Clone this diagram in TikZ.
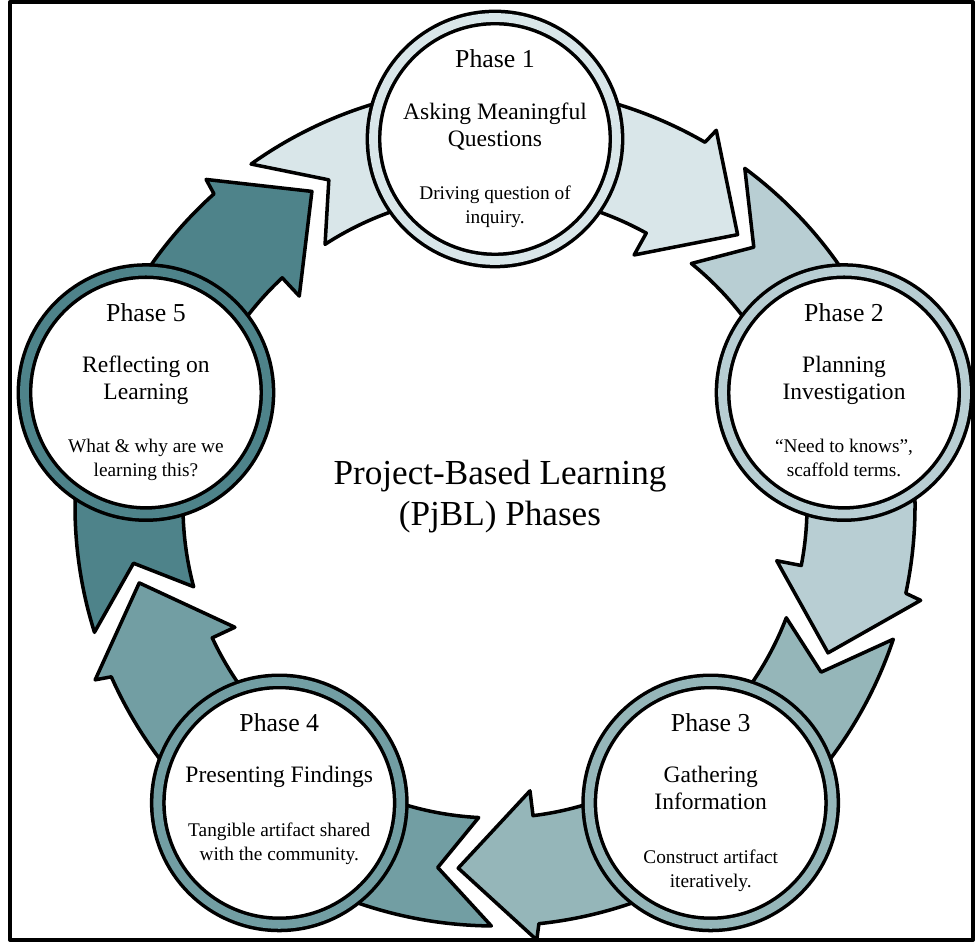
\documentclass[tikz,border=0pt]{standalone}
\usepackage{fontspec}
\setmainfont{Liberation Serif}
\usetikzlibrary{calc}

\definecolor{phaseI}{RGB}{217,230,233}
\definecolor{phaseII}{RGB}{184,206,211}
\definecolor{phaseIII}{RGB}{149,182,185}
\definecolor{phaseIV}{RGB}{114,158,163}
\definecolor{phaseV}{RGB}{78,131,138}

% curved arrow on the cycle: #1 = angle of its phase, #2 = fill colour
\newcommand{\cyclearrow}[2]{%
  \filldraw[fill=#2] (#1+35.5:420) -- (#1+27:366) -- (#1+33:312)
    arc[start angle=#1+33, end angle=#1-29, radius=312]
    -- (#1-29:287) -- (#1-41.8:364) -- (#1-30.5:436) -- (#1-30:420)
    arc[start angle=#1-30, end angle=#1+35.5, radius=420] -- cycle;}

\begin{document}
\begin{tikzpicture}[x=0.02cm, y=0.02cm, line width=2pt, line join=round,
  phase/.style={circle, draw, fill=white, double distance=5pt, minimum size=4.86cm, inner sep=0pt},
  ptitle/.style={anchor=base, inner sep=0pt, font=\fontsize{14.7}{17}\selectfont},
  pname/.style={anchor=north, inner sep=0pt, align=center, font=\fontsize{13.4}{15.3}\selectfont},
  pdesc/.style={anchor=north, inner sep=0pt, align=center, font=\fontsize{11}{13.6}\selectfont}]
  \useasboundingbox (0,0) rectangle (975,945);
  \draw[line width=2.3pt] (10,5) rectangle (973,943);

  \coordinate (C) at (495,439);

  % Arrows first, then the circles on top of them
  \begin{scope}[shift={(C)}]
    \cyclearrow{90}{phaseI}
    \cyclearrow{18}{phaseII}
    \cyclearrow{-54}{phaseIII}
    \cyclearrow{-126}{phaseIV}
    \cyclearrow{162}{phaseV}

    \node[phase, double=phaseI]   (p1) at (90:367)   {};
    \node[phase, double=phaseII]  (p2) at (18:367)   {};
    \node[phase, double=phaseIII] (p3) at (-54:367)  {};
    \node[phase, double=phaseIV]  (p4) at (-126:367) {};
    \node[phase, double=phaseV]   (p5) at (162:367)  {};
  \end{scope}

  % Centre title
  \node[font=\fontsize{20}{23.8}\selectfont, align=center, anchor=north, inner sep=0pt] (title)
    at ($(C)+(5,48)$) {Project-Based Learning\\(PjBL) Phases};

  % Phase 1 - top
  \node[ptitle] (t1) at ($(p1)+(0,71)$) {Phase 1};
  \node[pname] (n1) at ($(p1)+(0,38)$) {Asking Meaningful\\Questions};
  \node[pdesc] (d1) at ($(p1)+(0,-45)$) {Driving question of\\inquiry.};

  % Phase 2 - right
  \node[ptitle] (t2) at ($(p2)+(0,71)$) {Phase 2};
  \node[pname] (n2) at ($(p2)+(0,38)$) {Planning\\Investigation};
  \node[pdesc] (d2) at ($(p2)+(0,-45)$) {“Need to knows”,\\scaffold terms.};

  % Phase 3 - bottom right
  \node[ptitle] (t3) at ($(p3)+(0,71)$) {Phase 3};
  \node[pname] (n3) at ($(p3)+(0,38)$) {Gathering\\Information};
  \node[pdesc] (d3) at ($(p3)+(0,-45)$) {Construct artifact\\iteratively.};

  % Phase 4 - bottom left (one line name, so the text sits higher)
  \node[ptitle] (t4) at ($(p4)+(0,71)$) {Phase 4};
  \node[pname] (n4) at ($(p4)+(0,38)$) {Presenting Findings};
  \node[pdesc] (d4) at ($(p4)+(0,-18)$) {Tangible artifact shared\\with the community.};

  % Phase 5 - left
  \node[ptitle] (t5) at ($(p5)+(0,71)$) {Phase 5};
  \node[pname] (n5) at ($(p5)+(0,38)$) {Reflecting on\\Learning};
  \node[pdesc] (d5) at ($(p5)+(0,-45)$) {What \& why are we\\learning this?};
\end{tikzpicture}
\end{document}
